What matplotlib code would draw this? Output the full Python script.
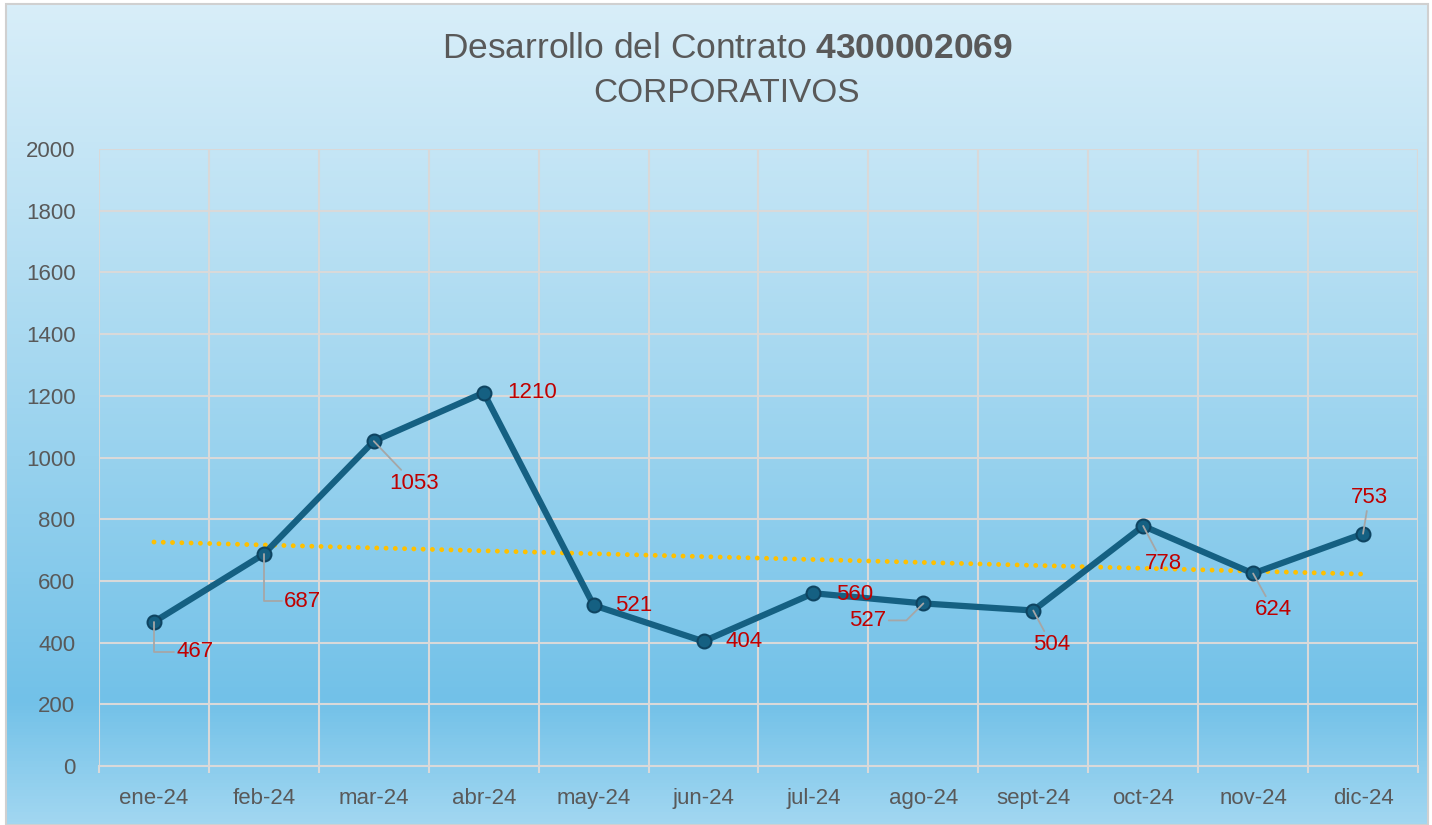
import numpy as np
import matplotlib
matplotlib.use('Agg')
import matplotlib.pyplot as plt
from matplotlib.colors import LinearSegmentedColormap
from matplotlib.patches import Rectangle

plt.rcParams['font.family'] = ['Liberation Sans', 'DejaVu Sans']
plt.rcParams['mathtext.fontset'] = 'custom'
plt.rcParams['mathtext.rm'] = 'Liberation Sans'
plt.rcParams['mathtext.bf'] = 'Liberation Sans:bold'

# datos
meses = ['ene-24', 'feb-24', 'mar-24', 'abr-24', 'may-24', 'jun-24',
         'jul-24', 'ago-24', 'sept-24', 'oct-24', 'nov-24', 'dic-24']
valores = [467, 687, 1053, 1210, 521, 404, 560, 527, 504, 778, 624, 753]

# posicion de las etiquetas (pixeles) y tipo de linea guia
desplaz = [(41, -30), (39, -47), (40, -42), (48, 0), (40, 0), (41, 0),
           (41, -1), (-56, -17), (18, -34), (20, -38), (20, -36), (6, 36)]
guia = ['codo', 'codo', 'recta', None, None, None,
        None, 'diag', 'recta', 'recta', 'recta', 'recta']

gris_txt = '#595959'
gris_rej = '#D9D9D9'

fig = plt.figure(figsize=(14.32, 8.25), dpi=100)
fig.patch.set_facecolor('white')

# fondo degradado
fondo = fig.add_axes([6 / 1432, 0, 1422 / 1432, 821 / 825], zorder=-10)
cmap = LinearSegmentedColormap.from_list('fondo', [
    (0.0, '#D8EEF9'), (0.25, '#BDE2F4'), (0.55, '#98D2EE'),
    (0.85, '#72C1E8'), (1.0, '#A2D7F1')])
grad = np.linspace(0, 1, 256).reshape(-1, 1)
fondo.imshow(grad, aspect='auto', cmap=cmap, extent=[0, 1, 0, 1])
fondo.set_axis_off()
fig.patches.append(Rectangle((6 / 1432, 0), 1422 / 1432, 821 / 825,
                             transform=fig.transFigure, fill=False,
                             edgecolor='#D0D0D0', lw=1.5, zorder=-5))

ax = fig.add_axes([99 / 1432, 59 / 825, 1319 / 1432, 617 / 825])
ax.set_facecolor('none')

x = np.arange(len(valores))

# linea de tendencia
m, b = np.polyfit(x, valores, 1)
ax.plot(x, m * x + b, color='#FFC000', lw=3.5, linestyle=(0, (0.01, 1.9)),
        dash_capstyle='round', zorder=3)

ax.plot(x, valores, color='#156082', lw=4.5, marker='o', markersize=10,
        markerfacecolor='#156082', markeredgecolor='#0E4461',
        markeredgewidth=1.5, zorder=4, solid_joinstyle='round')

for i, v in enumerate(valores):
    dx, dy = desplaz[i]
    props = None
    if guia[i] == 'codo':
        props = dict(arrowstyle='-', color='#A6A6A6', lw=1.3, shrinkA=0, shrinkB=0,
                     connectionstyle='angle,angleA=0,angleB=90,rad=0')
    elif guia[i] == 'diag':
        props = dict(arrowstyle='-', color='#A6A6A6', lw=1.3, shrinkA=0, shrinkB=0,
                     connectionstyle='angle,angleA=0,angleB=45,rad=0')
    elif guia[i] == 'recta':
        props = dict(arrowstyle='-', color='#A6A6A6', lw=1.3, shrinkA=0, shrinkB=0)
    ax.annotate(str(v), xy=(i, v), xytext=(dx, dy), textcoords='offset pixels',
                ha='center', va='center', fontsize=16, color='#C00000',
                arrowprops=props, zorder=5)

ax.set_xlim(-0.5, len(valores) - 0.5)
ax.set_ylim(0, 2000)
ax.set_yticks(np.arange(0, 2001, 200))
ax.set_xticks(x)
ax.set_xticklabels(meses)
ax.set_xticks(np.arange(-0.5, len(valores), 1), minor=True)

for yv in np.arange(200, 2001, 200):
    ax.axhline(yv, color=gris_rej, lw=1.5, zorder=1)
for xv in np.arange(-0.5, len(valores), 1):
    ax.axvline(xv, color=gris_rej, lw=1.5, zorder=1)

for s in ['top', 'right', 'left']:
    ax.spines[s].set_visible(False)
ax.spines['bottom'].set_color(gris_rej)
ax.spines['bottom'].set_linewidth(1.5)

ax.tick_params(axis='y', length=0, pad=17, labelsize=16, labelcolor=gris_txt)
ax.tick_params(axis='x', which='major', length=0, pad=16, labelsize=16,
               labelcolor=gris_txt)
ax.tick_params(axis='x', which='minor', length=5, width=1.5, color=gris_rej,
               direction='out')

fig.text(728 / 1432, 1 - 48 / 825, r'Desarrollo del Contrato $\bf{4300002069}$',
         ha='center', va='center', fontsize=25.5, color=gris_txt)
fig.text(727 / 1432, 1 - 94 / 825, 'CORPORATIVOS', ha='center', va='center',
         fontsize=24, color=gris_txt)

fig.savefig('out.png', dpi=100, facecolor=fig.get_facecolor())
